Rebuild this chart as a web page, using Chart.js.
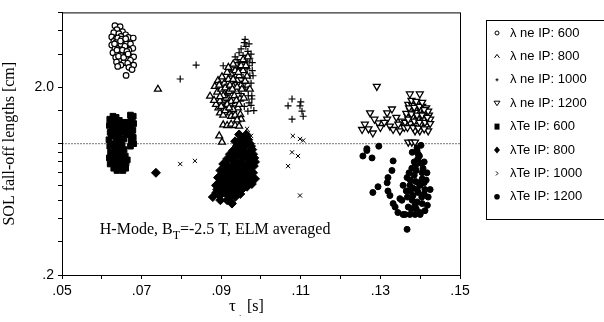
<!DOCTYPE html>
<html lang="en">
<head>
    <meta charset="UTF-8">
    <title>SOL fall-off lengths</title>
    <script src="https://cdn.jsdelivr.net/npm/chart.js"></script>
    <style>
        body { margin: 0; background: #fff; }
        #wrap { width: 604px; height: 322px; position: relative; }
    </style>
</head>
<body>
<div id="wrap"><canvas id="solChart"></canvas></div>
<script>
"use strict";

// values: [tau (s), length (cm)]
const neIP600 = [
    [0.0633,4.25],[0.0646,4.20],[0.0638,4.05],[0.0652,3.95],[0.0630,3.90],[0.0643,3.85],[0.0660,3.80],
    [0.0625,3.70],[0.0648,3.72],[0.0667,3.68],[0.0679,3.65],[0.0635,3.60],[0.0655,3.55],[0.0630,3.50],
    [0.0645,3.45],[0.0662,3.40],[0.0672,3.40],[0.0625,3.35],[0.0640,3.30],[0.0652,3.28],[0.0678,3.22],
    [0.0668,3.15],[0.0633,3.20],[0.0645,3.10],[0.0628,3.05],[0.0658,3.05],[0.0640,3.00],[0.0650,2.95],
    [0.0670,2.92],[0.0680,2.90],[0.0635,2.88],[0.0660,2.85],[0.0645,2.80],[0.0672,2.78],[0.0637,2.72],
    [0.0655,2.70],[0.0665,2.68],[0.0648,2.62],[0.0680,2.62],[0.0640,2.58],[0.0668,2.55],[0.0676,2.48],
    [0.0661,2.31],
    [0.0640,3.65],[0.0650,3.60],[0.0636,3.45],[0.0648,3.38],[0.0658,3.30],[0.0638,3.15],[0.0652,3.15],
    [0.0663,3.10],[0.0642,2.92],[0.0655,2.88],[0.0666,3.00],[0.0632,3.40],[0.0647,3.52],[0.0660,3.62]
];
const neIP800 = [
    [0.0741,1.95],
    [0.0872,1.79],[0.0884,2.02],[0.0892,2.17],[0.0902,2.27],[0.0897,1.69],[0.0910,1.59],[0.0897,1.46],
    [0.0922,1.46],[0.0915,1.86],[0.0930,2.02],[0.0940,2.17],[0.0927,2.48],[0.0947,2.58],[0.0955,2.80],
    [0.0967,2.90],[0.0965,2.29],[0.0972,1.95],[0.0947,1.73],[0.0935,1.63],[0.0917,1.74],[0.0890,1.88],
    [0.0900,1.95],[0.0908,2.10],[0.0918,2.20],[0.0925,2.35],[0.0935,2.45],[0.0945,2.30],[0.0912,1.75],
    [0.0925,1.68],[0.0938,1.90],[0.0950,2.05],[0.0955,2.45],[0.0960,2.15],[0.0942,1.55],[0.0930,1.52],
    [0.0893,1.55],[0.0887,1.62],[0.0905,1.42],[0.0925,1.40],[0.0948,1.43],
    [0.0905,1.26],[0.0915,1.25],[0.0925,1.27],[0.0935,1.25],[0.0945,1.24],[0.0902,1.02],[0.0895,1.10],
    [0.0895,2.05],[0.0905,1.80],[0.0910,1.98],[0.0920,1.90],[0.0922,2.05],[0.0930,2.20],[0.0933,1.80],
    [0.0940,2.00],[0.0943,2.40],[0.0950,2.60],[0.0952,1.95],[0.0938,1.70],[0.0915,1.62],[0.0900,1.58],
    [0.0910,1.50],[0.0920,1.55],[0.0935,1.42],[0.0945,1.62],[0.0957,1.75],[0.0962,2.60],[0.0930,2.65],
    [0.0915,2.40],[0.0928,1.95],[0.0918,2.55],[0.0897,1.78],[0.0882,1.70],[0.0950,1.35],[0.0940,1.34]
];
const neIP1000 = [
    [0.0797,2.21],[0.0837,2.62],[0.0960,3.59],
    [0.0967,3.10],[0.0972,2.85],[0.0950,3.20],[0.0962,3.30],[0.0975,3.00],[0.0958,2.70],[0.0970,2.60],
    [0.0978,2.45],[0.0905,2.60],[0.0935,2.90],[0.0945,3.05],[0.0955,2.95],[0.0965,2.50],[0.0980,2.30],
    [0.0975,2.10],[0.0968,1.95],[0.0977,1.80],[0.0970,1.65],[0.0982,1.50],[0.0967,1.49],[0.0958,1.58],
    [0.0950,1.85],[0.0962,2.15],[0.0943,2.70],[0.0977,1.73],
    [0.0960,2.85],[0.0955,2.55],[0.0965,2.75],[0.0972,2.30],[0.0960,2.00],[0.0968,1.80],[0.0975,1.60],
    [0.0955,2.25],[0.0948,2.45],[0.0970,3.40],[0.0978,2.70],[0.0958,3.45],[0.0940,2.80],
    [0.1068,1.59],[0.1078,1.73],[0.1098,1.59],[0.1103,1.49],[0.1106,1.40],[0.1078,1.35],[0.1100,1.67]
];
const neIP1200 = [
    [0.1291,2.02],[0.1374,1.84],[0.1399,1.84],[0.1274,1.46],[0.1317,1.46],[0.1329,1.53],[0.1261,1.27],
    [0.1254,1.19],[0.1294,1.29],[0.1281,1.14],[0.1317,1.35],[0.1324,1.24],[0.1332,1.19],[0.1349,1.17],
    [0.1354,1.32],[0.1370,1.62],[0.1380,1.60],[0.1392,1.64],[0.1405,1.58],[0.1415,1.55],[0.1375,1.50],
    [0.1388,1.47],[0.1400,1.52],[0.1412,1.45],[0.1422,1.42],[0.1368,1.40],[0.1380,1.38],[0.1395,1.36],
    [0.1408,1.34],[0.1425,1.35],[0.1420,1.49],[0.1362,1.30],[0.1375,1.28],[0.1390,1.25],[0.1402,1.27],
    [0.1415,1.24],[0.1387,1.17],[0.1399,1.17],[0.1420,1.17],[0.1370,1.02],[0.1379,1.02],[0.1387,1.02],
    [0.1360,1.22],[0.1345,1.27],[0.1340,1.38],[0.1310,1.30],[0.1300,1.22],[0.1270,1.20],[0.1285,1.35],
    [0.1372,1.55],[0.1385,1.56],[0.1398,1.58],[0.1410,1.52],[0.1365,1.45],[0.1378,1.44],[0.1392,1.42],
    [0.1405,1.42],[0.1418,1.38],[0.1370,1.35],[0.1385,1.32],[0.1398,1.30],[0.1412,1.30],[0.1425,1.28],
    [0.1368,1.22],[0.1382,1.22],[0.1395,1.21],[0.1410,1.20],[0.1378,1.70],[0.1390,1.68],[0.1405,1.66]
];
const teIP600 = [
    [0.0620,1.35],[0.0619,1.25],[0.0621,1.15],[0.0618,1.05],[0.0620,0.97],[0.0622,0.90],[0.0619,0.84],[0.0621,0.78],
    [0.0628,1.40],[0.0629,1.30],[0.0627,1.20],[0.0628,1.10],[0.0630,1.00],[0.0627,0.93],[0.0629,0.86],[0.0628,0.80],[0.0630,0.74],
    [0.0636,1.38],[0.0637,1.28],[0.0635,1.18],[0.0636,1.08],[0.0638,0.99],[0.0635,0.91],[0.0637,0.83],[0.0636,0.76],[0.0638,0.72],
    [0.0644,1.33],[0.0645,1.22],[0.0643,1.12],[0.0645,1.03],[0.0644,0.95],[0.0646,0.88],[0.0643,0.81],[0.0645,0.75],
    [0.0652,1.30],[0.0653,1.15],[0.0651,0.98],[0.0652,0.90],[0.0654,0.82],[0.0651,0.76],[0.0653,0.72],
    [0.0660,1.25],[0.0661,1.12],[0.0659,0.86],[0.0661,0.79],[0.0660,0.74],
    [0.0672,1.42],[0.0673,1.32],[0.0671,1.22],[0.0672,1.12],[0.0674,1.04],[0.0672,0.97],
    [0.0679,1.40],[0.0680,1.28],[0.0678,1.18],[0.0679,1.08],[0.0680,1.00],
    [0.0624,1.30],[0.0624,1.10],[0.0624,0.92],[0.0624,0.80],[0.0632,1.35],[0.0632,1.15],[0.0632,0.96],
    [0.0632,0.78],[0.0640,1.25],[0.0640,1.05],[0.0640,0.87],[0.0640,0.74],[0.0648,1.18],[0.0648,1.00],
    [0.0648,0.84],[0.0656,1.22],[0.0656,1.06],[0.0656,0.93],[0.0656,0.79],[0.0664,1.30],[0.0664,1.18],
    [0.0664,0.82],[0.0676,1.36],[0.0676,1.17],[0.0676,1.02]
];
const teIP800 = [
    [0.0736,0.70],
    [0.0945,1.12],[0.0958,1.08],[0.0968,1.05],[0.0952,1.00],[0.0962,0.98],[0.0975,0.97],[0.0940,0.98],
    [0.0935,1.03],[0.0948,0.93],[0.0958,0.91],[0.0970,0.90],[0.0980,0.88],[0.0930,0.92],[0.0922,0.88],
    [0.0940,0.87],[0.0952,0.85],[0.0965,0.84],[0.0975,0.82],[0.0915,0.83],[0.0928,0.82],[0.0942,0.80],
    [0.0955,0.79],[0.0968,0.77],[0.0982,0.76],[0.0905,0.78],[0.0918,0.76],[0.0932,0.75],[0.0945,0.74],
    [0.0958,0.72],[0.0972,0.71],[0.0898,0.72],[0.0910,0.70],[0.0925,0.69],[0.0938,0.68],[0.0950,0.67],
    [0.0965,0.66],[0.0892,0.66],[0.0905,0.64],[0.0918,0.63],[0.0932,0.62],[0.0945,0.61],[0.0960,0.62],
    [0.0977,0.61],[0.0985,0.65],[0.0887,0.60],[0.0900,0.58],[0.0912,0.57],[0.0925,0.56],[0.0940,0.57],
    [0.0955,0.58],[0.0905,0.55],[0.0879,0.52],[0.0897,0.53],[0.0915,0.50],[0.0927,0.48],[0.0935,0.52],
    [0.0948,0.54],[0.0922,0.52],[0.0890,0.57],[0.0960,0.70],[0.0985,0.80],[0.0978,0.93],
    [0.0950,1.06],[0.0963,1.12],[0.0972,1.00],[0.0955,0.95],[0.0945,0.90],[0.0935,0.88],[0.0962,0.88],
    [0.0972,0.86],[0.0925,0.85],[0.0935,0.78],[0.0948,0.77],[0.0962,0.75],[0.0975,0.75],[0.0912,0.73],
    [0.0922,0.72],[0.0935,0.71],[0.0948,0.70],[0.0955,0.69],[0.0902,0.68],[0.0915,0.66],[0.0928,0.65],
    [0.0940,0.64],[0.0952,0.64],[0.0968,0.63],[0.0895,0.62],[0.0908,0.60],[0.0920,0.60],[0.0932,0.59],
    [0.0948,0.60],[0.0965,0.59],[0.0912,0.54],[0.0888,0.55],[0.0898,0.50],[0.0938,0.54],[0.0952,0.57],
    [0.0970,0.66],[0.0980,0.70],[0.0983,0.84]
];
const teIP1000 = [
    [0.0797,0.78],[0.0834,0.81],[0.1080,1.10],[0.1098,1.06],[0.1106,1.04],[0.1078,0.90],[0.1093,0.86],
    [0.1068,0.76],[0.1098,0.53],[0.0965,1.20],[0.0967,1.14],[0.0975,1.10],[0.0970,1.02]
];
const teIP1200 = [
    [0.1296,0.97],[0.1266,0.92],[0.1256,0.86],[0.1279,0.84],[0.1332,0.81],[0.1329,0.72],[0.1319,0.66],
    [0.1317,0.62],[0.1294,0.59],[0.1281,0.55],[0.1319,0.56],[0.1324,0.53],[0.1332,0.48],[0.1337,0.46],
    [0.1344,0.43],[0.1367,0.35],[0.1349,0.51],[0.1354,0.50],[0.1392,0.92],[0.1394,0.83],[0.1400,0.79],
    [0.1379,0.74],[0.1407,0.74],[0.1417,0.70],[0.1405,0.65],[0.1367,0.66],[0.1357,0.60],[0.1374,0.60],
    [0.1392,0.57],[0.1412,0.57],[0.1425,0.57],[0.1382,0.53],[0.1404,0.52],[0.1420,0.52],[0.1370,0.46],
    [0.1387,0.47],[0.1400,0.43],[0.1400,0.42],[0.1357,0.42],[0.1362,0.42],[0.1374,0.42],[0.1387,0.42],
    [0.1266,0.94],[0.1392,0.95],[0.1385,0.68],[0.1395,0.62],[0.1375,0.56],[0.1410,0.62],
    [0.1380,0.90],[0.1385,0.80],[0.1398,0.86],[0.1390,0.72],[0.1405,0.70],[0.1375,0.64],[0.1388,0.63],
    [0.1400,0.60],[0.1415,0.64],[0.1382,0.58],[0.1395,0.55],[0.1410,0.54],[0.1368,0.52],[0.1380,0.50],
    [0.1392,0.49],[0.1405,0.48],[0.1418,0.47],[0.1378,0.45],[0.1390,0.45],[0.1412,0.44],[0.1365,0.56],
    [0.1372,0.70],[0.1388,0.76],[0.1402,0.98],[0.1395,0.88],[0.1410,0.80]
];

const refLevel = 1.0;
const xTickLabels = ['.05', '.07', '.09', '.11', '.13', '.15'];
const yTickLabels = { 0.2: '.2', 2: '2.0' };
const seriesNames = ['λ ne IP: 600', 'λ ne IP: 800', 'λ ne IP: 1000', 'λ ne IP: 1200',
                     'λTe IP: 600', 'λTe IP: 800', 'λTe IP: 1000', 'λTe IP: 1200'];

const toXY = arr => arr.map(p => ({ x: p[0], y: p[1] }));

// marker style for each series
const styles = [
    { pointStyle: 'circle',   radius: 2.8, fill: '#fff', rot: 0,   bw: 1.2 },
    { pointStyle: 'triangle', radius: 4,   fill: '#fff', rot: 0,   bw: 1.3 },
    { pointStyle: 'cross',    radius: 3.5, fill: '#000', rot: 0,   bw: 1.2 },
    { pointStyle: 'triangle', radius: 4,   fill: '#fff', rot: 180, bw: 1.3 },
    { pointStyle: 'rect',     radius: 4,   fill: '#000', rot: 0,   bw: 1 },
    { pointStyle: 'rectRot',  radius: 4.5, fill: '#000', rot: 0,   bw: 1 },
    { pointStyle: 'crossRot', radius: 3,   fill: '#000', rot: 0,   bw: 1 },
    { pointStyle: 'circle',   radius: 3,   fill: '#000', rot: 0,   bw: 1 }
];

const allSeries = [neIP600, neIP800, neIP1000, neIP1200, teIP600, teIP800, teIP1000, teIP1200];

const datasets = allSeries.map((s, i) => ({
    type: 'scatter',
    label: seriesNames[i],
    data: toXY(s),
    pointStyle: styles[i].pointStyle,
    pointRadius: styles[i].radius,
    pointRotation: styles[i].rot,
    pointBackgroundColor: styles[i].fill,
    pointBorderColor: '#000',
    pointBorderWidth: styles[i].bw
}));

// dotted reference line
datasets.push({
    type: 'line',
    label: 'ref',
    data: [{ x: 0.05, y: refLevel }, { x: 0.15, y: refLevel }],
    borderColor: '#777',
    borderWidth: 1,
    borderDash: [2, 1],
    pointRadius: 0,
    order: 10
});

const serif = '"Liberation Serif", "DejaVu Serif", serif';
const sans = '"Liberation Sans", Arial, sans-serif';

function legendMarker(ctx, i, x, y) {
    ctx.save();
    ctx.strokeStyle = '#000';
    ctx.fillStyle = '#000';
    ctx.lineWidth = 1;
    ctx.beginPath();
    if (i === 0) { ctx.arc(x, y, 2, 0, Math.PI * 2); ctx.stroke(); }
    else if (i === 1) { ctx.moveTo(x - 2.5, y + 1.5); ctx.lineTo(x, y - 2); ctx.lineTo(x + 2.5, y + 1.5); ctx.stroke(); }
    else if (i === 2) { ctx.moveTo(x - 1.5, y); ctx.lineTo(x + 1.5, y); ctx.moveTo(x, y - 1.5); ctx.lineTo(x, y + 1.5); ctx.stroke(); }
    else if (i === 3) { ctx.moveTo(x - 3, y - 2); ctx.lineTo(x + 3, y - 2); ctx.lineTo(x, y + 2.5); ctx.closePath(); ctx.stroke(); }
    else if (i === 4) { ctx.fillRect(x - 2.5, y - 3, 5, 6); }
    else if (i === 5) { ctx.moveTo(x, y - 3.5); ctx.lineTo(x + 3, y); ctx.lineTo(x, y + 3.5); ctx.lineTo(x - 3, y); ctx.closePath(); ctx.fill(); }
    else if (i === 6) { ctx.moveTo(x - 1, y - 2); ctx.lineTo(x + 1, y); ctx.lineTo(x - 1, y + 2); ctx.stroke(); }
    else { ctx.arc(x, y, 2.8, 0, Math.PI * 2); ctx.fill(); }
    ctx.restore();
}

const decorations = {
    id: 'decorations',
    afterDraw(chart) {
        const { ctx, chartArea: a, scales } = chart;
        ctx.save();
        // frame around the plot
        ctx.strokeStyle = '#000';
        ctx.lineWidth = 1;
        ctx.strokeRect(a.left + 0.5, a.top + 0.5, a.right - a.left, a.bottom - a.top);

        // annotation inside the plot
        ctx.fillStyle = '#000';
        ctx.textBaseline = 'alphabetic';
        ctx.font = '16px ' + serif;
        let tx = scales.x.getPixelForValue(0.0595);
        const ty = scales.y.getPixelForValue(0.33);
        const part1 = 'H-Mode, B';
        ctx.fillText(part1, tx, ty);
        tx += ctx.measureText(part1).width;
        ctx.font = '12px ' + serif;
        ctx.fillText('T', tx, ty + 5);
        tx += ctx.measureText('T').width;
        ctx.font = '16px ' + serif;
        ctx.fillText('=-2.5 T, ELM averaged', tx, ty);

        // x axis title
        ctx.font = '17px ' + serif;
        ctx.fillText('τ', 229, 311);
        ctx.font = '9px ' + serif;
        ctx.fillText('.', 239, 316);
        ctx.font = '16px ' + serif;
        ctx.fillText('[s]', 247, 311);

        // legend box
        ctx.strokeRect(486.5, 20.5, 120, 199);
        ctx.font = '13px ' + sans;
        ctx.textBaseline = 'middle';
        seriesNames.forEach((name, i) => {
            const y = 33 + i * 23.4;
            legendMarker(ctx, i, 497, y);
            ctx.fillText(name, 510, y);
        });
        ctx.restore();
    }
};

new Chart(document.getElementById('solChart'), {
    data: { datasets },
    options: {
        responsive: true,
        maintainAspectRatio: false,
        animation: false,
        layout: { padding: { left: 0, right: 144, top: 10, bottom: 0 } },
        plugins: {
            legend: { display: false },
            tooltip: { enabled: false }
        },
        scales: {
            x: {
                type: 'linear',
                min: 0.05,
                max: 0.15,
                afterFit: s => { s.height = 47; },
                ticks: {
                    stepSize: 0.01,
                    autoSkip: false,
                    maxRotation: 0,
                    color: '#000',
                    padding: 4,
                    font: { family: sans, size: 14 },
                    callback: v => {
                        const k = Math.round(v * 100);
                        const idx = (k - 5) / 2;
                        return Number.isInteger(idx) ? xTickLabels[idx] : '';
                    }
                },
                grid: { drawOnChartArea: false, tickLength: 4, color: '#000' },
                border: { color: '#000' }
            },
            y: {
                type: 'logarithmic',
                min: 0.2,
                max: 5,
                afterFit: s => { s.width = 62; },
                ticks: {
                    autoSkip: false,
                    color: '#000',
                    padding: 4,
                    font: { family: sans, size: 14 },
                    callback: v => {
                        const key = Math.round(v * 10) / 10;
                        return yTickLabels[key] || '';
                    }
                },
                title: {
                    display: true,
                    text: 'SOL fall-off lengths [cm]',
                    color: '#000',
                    font: { family: serif, size: 16 },
                    padding: { top: 0, bottom: 0 }
                },
                grid: { drawOnChartArea: false, tickLength: 4, color: '#000' },
                border: { color: '#000' }
            }
        }
    },
    plugins: [decorations]
});
</script>
</body>
</html>
